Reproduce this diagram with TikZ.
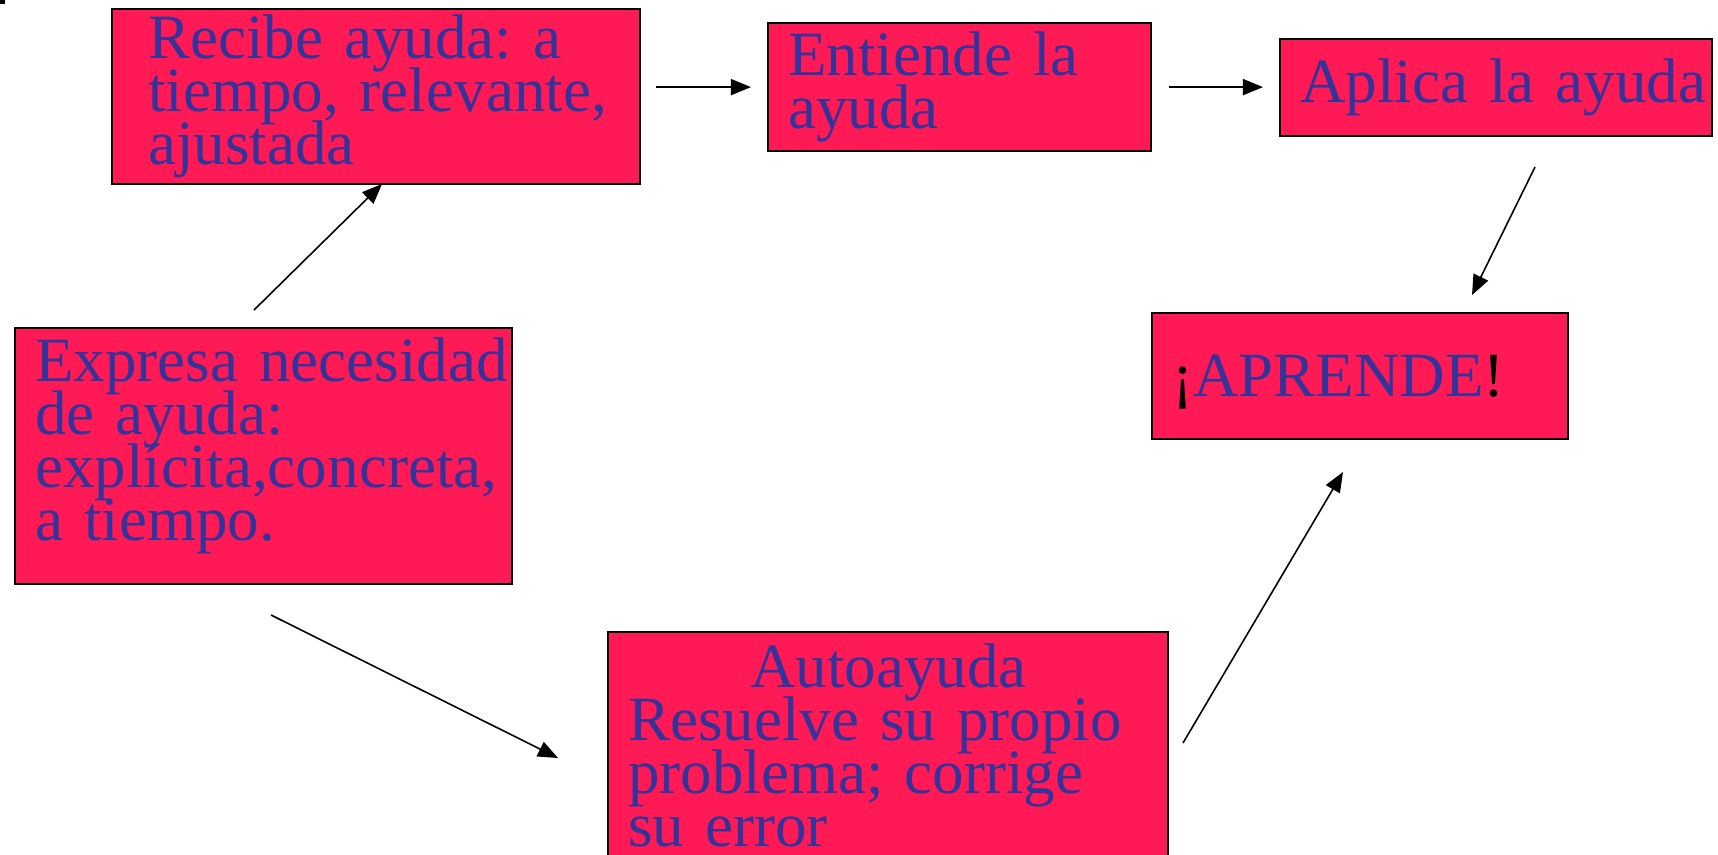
\documentclass[tikz,border=0pt]{standalone}
\usepackage{fontspec}
\setmainfont{Liberation Serif}
\usepackage{xcolor}
\usetikzlibrary{arrows.meta}
\definecolor{rosa}{RGB}{255,26,85}
\definecolor{azul}{RGB}{51,51,153}

\begin{document}
\begin{tikzpicture}
[x=0.01cm, y=-0.01cm,
caja/.style={rectangle, draw, line width=0.6pt, fill=rosa, text=azul, anchor=north west, align=left, inner xsep=0.2cm, inner ysep=0.05cm, font={\fontsize{17.93pt}{15.08pt}\selectfont\lineskiplimit=-100pt\frenchspacing\hyphenpenalty=10000\exhyphenpenalty=10000}},
flecha/.style={-{Triangle[length=0.2cm, width=0.16cm]}, line width=0.45pt},]
\useasboundingbox (0,0) rectangle (1718,854);
\clip (0,0) rectangle (1718,854);
\fill[black] (0,0) rectangle (5,4);
\node (recibe)    [caja, inner xsep=0.36cm, text width=4.56cm, minimum height=1.75cm] at (111,8) {Recibe~ayuda:~a\\tiempo,~relevante,\\ajustada};
\node (entiende)  [caja, text width=3.43cm, minimum height=1.28cm] at (767,22) {Entiende~la\\ayuda};
\node (aplica)    [caja, text width=3.92cm, minimum height=0.97cm] at (1279,38) {Aplica~la~ayuda};
\node (aprende)   [caja, text width=3.76cm, minimum height=1.26cm, text depth=0pt] at (1151,312) {{\color{black}¡}APRENDE{\color{black}!}};
\node (expresa)   [caja, text width=4.57cm, minimum height=2.56cm] at (14,327) {Expresa~necesidad\\de~ayuda:\\explícita,concreta,\\a~tiempo.\rule[-0.34cm]{0pt}{0pt}};
\node (autoayuda) [caja, text width=5.2cm, inner ysep=0.12cm] at (607,631) {\hspace*{1.22cm}Autoayuda\\Resuelve~su~propio\\problema;~corrige\\su~error};
\coordinate (ini-3) at (1535,167);
\coordinate (fin-3) at (1472,295);
\coordinate (ini-4) at (254,310);
\coordinate (fin-4) at (382,184);
\coordinate (ini-5) at (271,615);
\coordinate (fin-5) at (558,758);
\coordinate (ini-6) at (1183,743);
\coordinate (fin-6) at (1343,472);
\draw [flecha, shorten <=0.15cm, shorten >=0.16cm] (recibe.east |- entiende.west) -- (entiende.west);
\draw [flecha, shorten <=0.17cm, shorten >=0.16cm] (entiende.east) -- (entiende.east -| aplica.west);
\draw [flecha] (ini-3) -- (fin-3);
\draw [flecha] (ini-4) -- (fin-4);
\draw [flecha] (ini-5) -- (fin-5);
\draw [flecha] (ini-6) -- (fin-6);
\end{tikzpicture}
\end{document}
